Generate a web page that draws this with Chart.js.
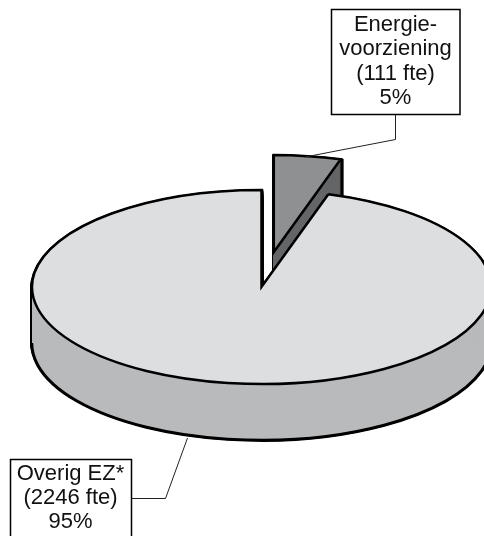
<!DOCTYPE html>
<html>
<head>
<meta charset="utf-8">
<style>html,body{margin:0;padding:0;background:#fff;overflow:hidden}canvas{display:block}</style>
<script src="https://cdn.jsdelivr.net/npm/chart.js@4"></script>
</head>
<body>
<canvas id="c" width="484" height="536"></canvas>
<script>
const categories = ['Energievoorziening', 'Overig EZ*'];
const fteValues = [111, 2246];
const topColors = ['#8f9092', '#dddee0'];
const sideColors = ['#646567', '#b9babc'];
const explodeAmounts = [83.5, 0];
const calloutLines = [
  ['Energie-', 'voorziening', '(111 fte)', '5%'],
  ['Overig EZ*', '(2246 fte)', '95%']
];

const TILT = 97 / 229.5;
const DEPTH = 56;
const LINE = 2.5;
const SIDE_LINE = 3.6;

function paint(ctx, arc, i, fill, depth, line) {
  const mid = (arc.startAngle + arc.endAngle) / 2;
  const saved = arc.options;
  arc.options = Object.assign({}, saved, {
    backgroundColor: fill, borderColor: '#000', borderWidth: line,
    borderAlign: 'center', borderJoinStyle: 'miter', offset: 0, spacing: 0
  });
  ctx.save();
  ctx.translate(0, depth);
  ctx.translate(arc.x, arc.y);
  ctx.scale(1, TILT);
  ctx.translate(-arc.x, -arc.y);
  ctx.translate(Math.cos(mid) * explodeAmounts[i], Math.sin(mid) * explodeAmounts[i]);
  // stroke in device space so the tilted outline keeps an even width
  const nativeStroke = ctx.stroke;
  ctx.stroke = function () {
    ctx.save();
    ctx.setTransform(1, 0, 0, 1, 0, 0);
    nativeStroke.call(ctx);
    ctx.restore();
  };
  arc.draw(ctx);
  delete ctx.stroke;
  ctx.restore();
  arc.options = saved;
}

const pie3d = {
  id: 'pie3d',
  beforeDatasetDraw(chart, args) {
    const ctx = chart.ctx;
    const arcs = chart.getDatasetMeta(args.index).data;
    arcs.forEach((arc, i) => {
      for (let d = DEPTH; d >= 1; d -= 1) paint(ctx, arc, i, '#000', d, SIDE_LINE);
      for (let d = DEPTH; d >= 1; d -= 1) paint(ctx, arc, i, sideColors[i], d, 0);
      if (explodeAmounts[i] === 0) {
        ctx.save();
        ctx.beginPath();
        ctx.rect(0, arc.y + DEPTH, chart.width, chart.height);
        ctx.clip();
        paint(ctx, arc, i, sideColors[i], DEPTH, LINE);
        ctx.restore();
      }
      paint(ctx, arc, i, topColors[i], 0, LINE);
    });
    return false;
  },
  afterDraw(chart) {
    const ctx = chart.ctx;
    ctx.save();
    ctx.strokeStyle = '#222';
    ctx.lineWidth = 1;
    ctx.beginPath();
    ctx.moveTo(395.5, 114); ctx.lineTo(395.5, 139.5); ctx.lineTo(305, 157);
    ctx.moveTo(131, 498.5); ctx.lineTo(165.5, 498.5); ctx.lineTo(187.5, 438);
    ctx.stroke();
    ctx.fillStyle = '#fff';
    ctx.strokeStyle = '#000';
    ctx.lineWidth = 1.5;
    const boxes = [
      {x: 331.5, y: 9.5, w: 128.5, h: 105, cx: 395.5, y0: 25, step: 24.4},
      {x: 10.5, y: 459.5, w: 121, h: 90, cx: 70.5, y0: 474, step: 24}
    ];
    boxes.forEach((b, k) => {
      ctx.fillRect(b.x, b.y, b.w, b.h);
      ctx.strokeRect(b.x, b.y, b.w, b.h);
      ctx.save();
      ctx.fillStyle = '#111';
      ctx.font = '22px "Liberation Sans", Arial, sans-serif';
      ctx.textAlign = 'center';
      ctx.textBaseline = 'middle';
      calloutLines[k].forEach((t, n) => ctx.fillText(t, b.cx, b.y0 + n * b.step));
      ctx.restore();
    });
    ctx.restore();
  }
};

new Chart(document.getElementById('c'), {
  type: 'pie',
  data: {labels: categories, datasets: [{data: fteValues, backgroundColor: topColors, borderWidth: 0, radius: 229.5, hoverOffset: 0}]},
  options: {
    responsive: false,
    animation: false,
    events: [],
    layout: {padding: {left: 39, top: 38}},
    plugins: {legend: {display: false}, tooltip: {enabled: false}}
  },
  plugins: [pie3d]
});
</script>
</body>
</html>
